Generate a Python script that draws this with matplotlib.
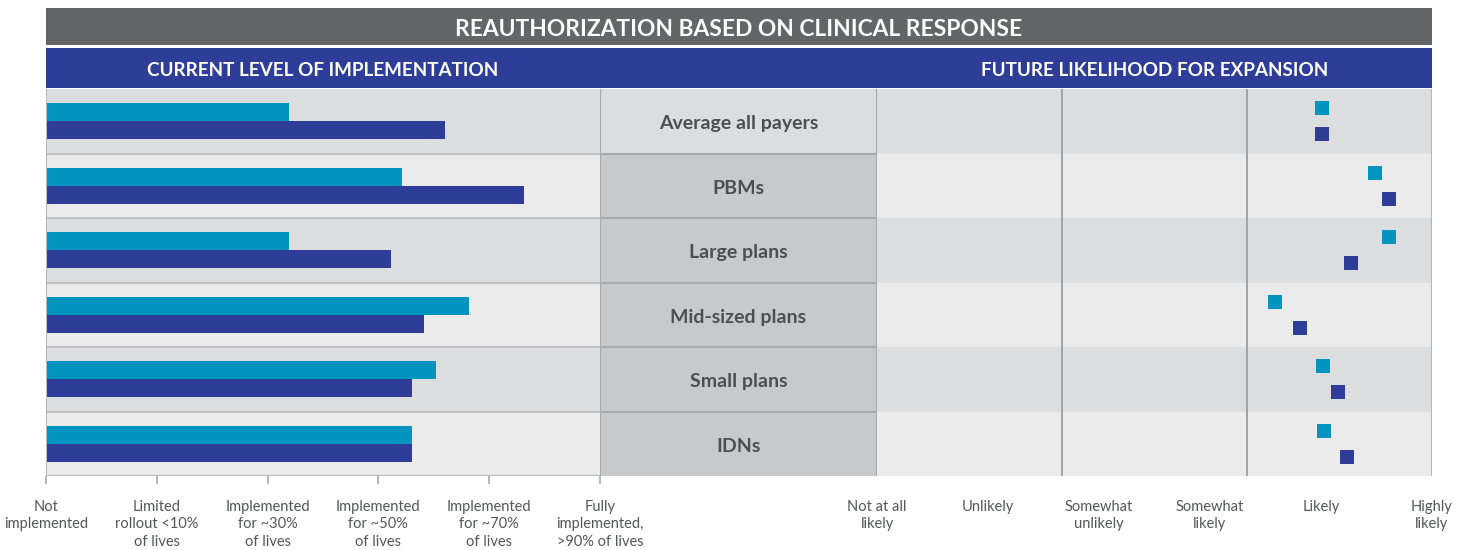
import matplotlib
matplotlib.use("Agg")
import matplotlib.pyplot as plt

plt.rcParams['font.family'] = ['Lato', 'DejaVu Sans']

# data
payers = ["Average all payers", "PBMs", "Large plans", "Mid-sized plans",
          "Small plans", "IDNs"]
impl_teal = [2.19, 3.21, 2.19, 3.82, 3.52, 3.30]
impl_navy = [3.60, 4.31, 3.11, 3.41, 3.30, 3.30]
future_teal = [4.01, 4.49, 4.61, 3.59, 4.02, 4.03]
future_navy = [4.01, 4.61, 4.27, 3.81, 4.15, 4.23]

impl_labels = ["Not\nimplemented", "Limited\nrollout <10%\nof lives",
               "Implemented\nfor ~30%\nof lives", "Implemented\nfor ~50%\nof lives",
               "Implemented\nfor ~70%\nof lives", "Fully\nimplemented,\n>90% of lives"]
future_labels = ["Not at all\nlikely", "Unlikely", "Somewhat\nunlikely",
                 "Somewhat\nlikely", "Likely", "Highly\nlikely"]

TEAL = "#0094be"
NAVY = "#2e3d97"
DARK_ROW = "#dcdddf"
LIGHT_ROW = "#ebebeb"
CELL = "#c8c9cb"
LINE = "#a8a9ab"
TXT = "#55565a"

W, H = 1466, 550
fig = plt.figure(figsize=(W / 100, H / 100), dpi=100)


def box(x0, y0, x1, y1):
    # pixel box -> figure rect
    return [x0 / W, 1 - y1 / H, (x1 - x0) / W, (y1 - y0) / H]


# header bands
hdr = fig.add_axes(box(46, 8, 1432, 45))
hdr.set_facecolor("#646567")
hdr.set_xticks([]); hdr.set_yticks([])
for s in hdr.spines.values():
    s.set_visible(False)
hdr.text(0.5, 0.42, "REAUTHORIZATION BASED ON CLINICAL RESPONSE", color="white",
         fontsize=16.4, fontweight="bold", ha="center", va="center",
         transform=hdr.transAxes)

sub = fig.add_axes(box(46, 48, 1432, 88))
sub.set_facecolor(NAVY)
sub.set_xticks([]); sub.set_yticks([])
for s in sub.spines.values():
    s.set_visible(False)
sub.text((323 - 46) / 1386, 0.45, "CURRENT LEVEL OF IMPLEMENTATION", color="white",
         fontsize=13.6, fontweight="bold", ha="center", va="center",
         transform=sub.transAxes)
sub.text((1154.5 - 46) / 1386, 0.45, "FUTURE LIKELIHOOD FOR EXPANSION", color="white",
         fontsize=13.6, fontweight="bold", ha="center", va="center",
         transform=sub.transAxes)

axL = fig.add_axes(box(46, 89, 600, 476))
axM = fig.add_axes(box(600, 89, 877, 476))
axR = fig.add_axes(box(877, 89, 1432, 476))

n = len(payers)
rows = [i + 0.5 for i in range(n)]
for ax in (axL, axM, axR):
    ax.set_ylim(n, 0)
    ax.set_xlim(0, 5)
    ax.set_yticks([])
    for s in ax.spines.values():
        s.set_visible(False)

# left panel
for i in range(n):
    axL.axhspan(i, i + 1, color=DARK_ROW if i % 2 == 0 else LIGHT_ROW, zorder=0)
    if i > 0:
        axL.axhline(i, color="#b8b9bb", lw=1.2, zorder=1)
h = 0.28
axL.barh([r - h / 2 for r in rows], impl_teal, height=h, color=TEAL, zorder=2)
axL.barh([r + h / 2 for r in rows], impl_navy, height=h, color=NAVY, zorder=2)
axL.axvline(0, color="#b8b9bb", lw=1.5, zorder=3)
axL.axhline(n, color="#b8b9bb", lw=1.5, zorder=3)
axL.set_xticks(range(6))
axL.set_xticklabels(impl_labels, fontsize=10.5, color=TXT, linespacing=1.35)
axL.tick_params(axis="x", length=6, width=1.2, color="#a8a9ab", pad=11)

# middle labels
for i in range(n):
    axM.axhspan(i, i + 1, color=DARK_ROW if i == 0 else CELL, zorder=0)
    if i > 0:
        axM.axhline(i, color=LINE, lw=1.5, zorder=1)
    axM.text(2.5, rows[i] + 0.04, payers[i], ha="center", va="center", fontsize=14,
             fontweight="bold", color="#4d4e51")
axM.axvline(0, color=LINE, lw=1.5)
axM.axvline(5, color=LINE, lw=1.5)
axM.set_xticks([])

# right panel
for i in range(n):
    axR.axhspan(i, i + 1, color=DARK_ROW if i % 2 == 0 else LIGHT_ROW, zorder=0)
for gx in [5 / 3, 10 / 3]:
    axR.axvline(gx, color="#9c9da0", lw=1.3, zorder=1)
axR.axvline(5, color="#b0b1b3", lw=2, zorder=1)
axR.scatter(future_teal, [r - 0.2 for r in rows], marker="s", s=88, color=TEAL,
            linewidths=0, zorder=3)
axR.scatter(future_navy, [r + 0.2 for r in rows], marker="s", s=88, color=NAVY,
            linewidths=0, zorder=3)
axR.set_xticks(range(6))
axR.set_xticklabels(future_labels, fontsize=10.5, color=TXT, linespacing=1.35)
axR.tick_params(axis="x", length=0, pad=17)

fig.savefig("out.png", dpi=100)
